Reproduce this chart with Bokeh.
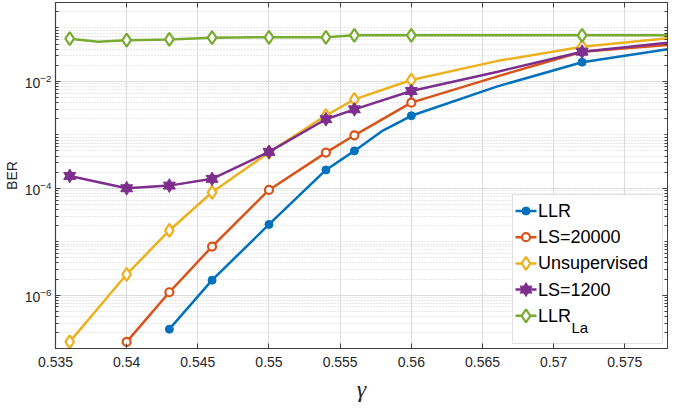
import math
from bokeh.plotting import figure
from bokeh.models import (LogAxis, LinearAxis, FixedTicker, Label, BoxAnnotation)
from bokeh.embed import file_html
from bokeh.resources import INLINE

# ---------------- data ----------------
g_llr = [0.543, 0.546, 0.550, 0.554, 0.556, 0.558, 0.560, 0.566, 0.572, 0.578]
ber_llr = [2.3e-7, 1.9e-6, 2.1e-5, 2.2e-4, 5.0e-4, 1.2e-3, 2.27e-3, 8.0e-3, 0.0229, 0.040]
mk_llr = [0, 1, 2, 3, 4, 6, 8]

g_ls20000 = [0.540, 0.543, 0.546, 0.550, 0.554, 0.556, 0.560, 0.566, 0.572, 0.578]
ber_ls20000 = [1.33e-7, 1.13e-6, 8.1e-6, 9.3e-5, 4.65e-4, 9.8e-4, 4.0e-3, 0.0123, 0.036, 0.048]
mk_ls20000 = [0, 1, 2, 3, 4, 5, 6, 8]

g_unsup = [0.536, 0.540, 0.543, 0.546, 0.550, 0.554, 0.556, 0.560, 0.566, 0.572, 0.578]
ber_unsup = [1.33e-7, 2.45e-6, 1.62e-5, 8.4e-5, 4.7e-4, 2.3e-3, 4.6e-3, 0.0106, 0.024, 0.0447, 0.064]
mk_unsup = [0, 1, 2, 3, 4, 5, 6, 7, 9]

g_ls1200 = [0.536, 0.540, 0.543, 0.546, 0.550, 0.554, 0.556, 0.560, 0.566, 0.572, 0.578]
ber_ls1200 = [1.7e-4, 1.0e-4, 1.12e-4, 1.5e-4, 4.8e-4, 1.96e-3, 3.0e-3, 6.6e-3, 0.015, 0.036, 0.053]
mk_ls1200 = [0, 1, 2, 3, 4, 5, 6, 7, 9]

g_llrla = [0.536, 0.538, 0.540, 0.543, 0.546, 0.550, 0.554, 0.556, 0.560, 0.572, 0.578]
ber_llrla = [0.063, 0.055, 0.059, 0.061, 0.066, 0.067, 0.067, 0.073, 0.073, 0.073, 0.073]
mk_llrla = [0, 2, 3, 4, 5, 6, 7, 8, 9]

series_labels = ["LLR", "LS=20000", "Unsupervised", "LS=1200", "LLR"]
last_label_sub = "La"

x_ticks = [0.535, 0.540, 0.545, 0.550, 0.555, 0.560, 0.565, 0.570, 0.575]
x_tick_labels = ["0.535", "0.54", "0.545", "0.55", "0.555", "0.56", "0.565", "0.57", "0.575"]
y_ticks = [1e-6, 1e-4, 1e-2]
y_minor = [m * 10.0 ** e for e in range(-7, 0) for m in range(1, 10)
           if not (m == 1 and 10.0 ** e in y_ticks)]

c_blue, c_red, c_yel, c_pur, c_grn = "#0072BD", "#D95319", "#EDB120", "#7E2F8E", "#77AC30"
FONT = "Liberation Sans"

X0, X1, Y0, Y1 = 0.535, 0.578, 1e-7, 0.3
FW, FH = 612, 346
p = figure(frame_width=FW, frame_height=FH, x_range=(X0, X1), y_range=(Y0, Y1),
           y_axis_type="log", output_backend="svg", toolbar_location=None,
           min_border_left=4, min_border_right=4, min_border_top=2, min_border_bottom=2)
p.background_fill_color = "white"
p.outline_line_color = "#404040"

xt = FixedTicker(ticks=x_ticks, minor_ticks=[])
yt = FixedTicker(ticks=y_ticks, minor_ticks=y_minor)

xa = p.xaxis[0]
xa.ticker = xt
xa.major_label_overrides = {t: l for t, l in zip(x_ticks, x_tick_labels)}
xa.axis_label = "γ"
xa.axis_label_text_font = "Liberation Serif"
xa.axis_label_text_font_style = "italic"
xa.axis_label_text_font_size = "24px"
xa.axis_label_text_color = "#262626"
xa.axis_label_standoff = 6

ya = p.yaxis[0]
ya.ticker = yt
ya.axis_label = "BER"
ya.axis_label_text_font = FONT
ya.axis_label_text_font_style = "normal"
ya.axis_label_text_font_size = "14px"
ya.axis_label_text_color = "#262626"
ya.axis_label_standoff = 2

for ax in (xa, ya):
    ax.major_label_text_font = FONT
    ax.major_label_text_font_size = "14px"
    ax.major_label_text_color = "#262626"
    ax.axis_line_color = "#404040"
    ax.axis_line_width = 1.2
    ax.major_tick_in = 5
    ax.major_tick_out = 0
    ax.major_tick_line_color = "#404040"
    ax.minor_tick_in = 3
    ax.minor_tick_out = 0
    ax.minor_tick_line_color = "#404040"
xa.major_label_standoff = 8
ya.major_label_standoff = 4

top = LinearAxis(ticker=xt, major_label_text_font_size="1px", major_label_text_color=None,
                 major_tick_in=5, major_tick_out=0,
                 minor_tick_line_color=None, axis_line_color="#404040", major_tick_line_color="#404040",
                 major_label_standoff=0)
right = LogAxis(ticker=yt, major_label_text_font_size="1px", major_label_text_color=None,
                major_tick_in=5, major_tick_out=0,
                minor_tick_in=3, minor_tick_out=0, axis_line_color="#404040",
                major_tick_line_color="#404040", minor_tick_line_color="#404040", major_label_standoff=0)
p.add_layout(top, "above")
p.add_layout(right, "right")

p.xgrid.ticker = xt
p.ygrid.ticker = yt
p.xgrid.grid_line_color = "#dcdcdc"
p.ygrid.grid_line_color = "#dcdcdc"
p.ygrid.minor_grid_line_color = "#d0d0d0"
p.ygrid.minor_grid_line_dash = "1 2"


def px2x(px):
    return X0 + px / FW * (X1 - X0)


def px2y(py):
    return 10 ** (math.log10(Y0) + py / FH * (math.log10(Y1) - math.log10(Y0)))


# ---- legend frame (underlay: above the grid, below every line) ----
MARG, BW, BH = 5, 150, 149
bx0 = FW - MARG - BW
by0 = MARG
p.add_layout(BoxAnnotation(left=px2x(bx0), right=px2x(bx0 + BW),
                           bottom=px2y(by0), top=px2y(by0 + BH),
                           fill_color="white", fill_alpha=1.0,
                           line_color="#a0a0a0", line_width=1, level="underlay"))

LW = 2.5
styles = [
    dict(marker="circle", size=8, fill_color=c_blue, line_color=c_blue, line_width=1),
    dict(marker="circle", size=8, fill_color="white", line_color=c_red, line_width=2.2),
    dict(marker="diamond", size=13, fill_color="white", line_color=c_yel, line_width=2.2),
    None,
    dict(marker="diamond", size=13, fill_color="white", line_color=c_grn, line_width=2.2),
]
colors = [c_blue, c_red, c_yel, c_pur, c_grn]
series = [(g_llr, ber_llr, mk_llr), (g_ls20000, ber_ls20000, mk_ls20000),
          (g_unsup, ber_unsup, mk_unsup), (g_ls1200, ber_ls1200, mk_ls1200),
          (g_llrla, ber_llrla, mk_llrla)]


def sub(lst, idx):
    return [lst[i] for i in idx]


def draw_markers(xs, ys, k):
    if styles[k] is None:   # hexagram = two overlapping filled triangles
        for mk in ("triangle", "inverted_triangle"):
            p.scatter(xs, ys, marker=mk, size=12, fill_color=c_pur, line_color=c_pur, line_width=1)
    else:
        p.scatter(xs, ys, **styles[k])


ROW0, ROWSTEP = 16.5, 26.2
for k, (gx, gy, mk) in enumerate(series):
    # data
    p.line(gx, gy, line_color=colors[k], line_width=LW)
    draw_markers(sub(gx, mk), sub(gy, mk), k)
    # legend entry
    yc = by0 + BH - ROW0 - k * ROWSTEP
    p.line([px2x(bx0 + 3), px2x(bx0 + 24)], [px2y(yc), px2y(yc)], line_color=colors[k], line_width=LW)
    draw_markers([px2x(bx0 + 13.5)], [px2y(yc)], k)
    p.add_layout(Label(x=px2x(bx0 + 25.5), y=px2y(yc), text=series_labels[k],
                       text_font=FONT, text_font_size="18px", text_color="black",
                       text_baseline="middle", text_align="left"))
    if k == len(series) - 1:
        p.add_layout(Label(x=px2x(bx0 + 25.5 + 33.5), y=px2y(yc - 3.2), text=last_label_sub,
                           text_font=FONT, text_font_size="15px", text_color="black",
                           text_baseline="top", text_align="left"))

open("out.html", "w").write(file_html(p, INLINE))
